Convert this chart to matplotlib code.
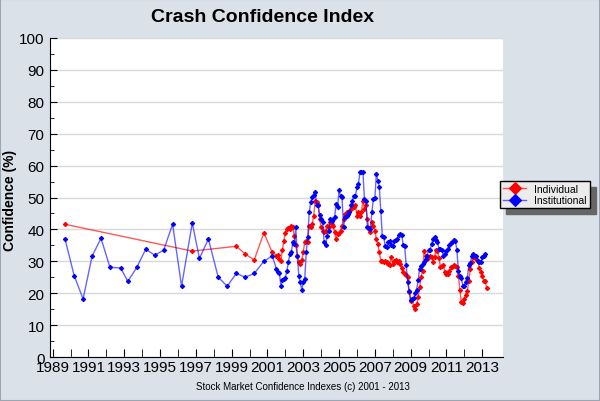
import matplotlib
matplotlib.use("Agg")
import matplotlib.pyplot as plt
import numpy as np
from matplotlib.patches import Rectangle

plt.rcParams['font.family'] = ['Liberation Sans', 'DejaVu Sans']

# semi-annual survey points before the monthly series
inst_early_years = [1989.69, 1990.2, 1990.7, 1991.2, 1991.7, 1992.2, 1992.8, 1993.2,
                    1993.7, 1994.2, 1994.7, 1995.2, 1995.7, 1996.2, 1996.8, 1997.2,
                    1997.7, 1998.25, 1998.75, 1999.26, 1999.76, 2000.26, 2000.8, 2001.27]
inst_early = [37.0, 25.5, 18.2, 31.6, 37.2, 28.1, 27.9, 23.7, 28.1, 33.8, 31.9, 33.5,
              41.6, 22.2, 42.0, 30.9, 37.0, 25.0, 22.2, 26.2, 25.0, 26.2, 30.0, 31.7]

ind_early_years = [1989.69, 1996.8, 1999.26, 1999.76, 2000.26, 2000.8, 2001.27]
ind_early = [41.6, 33.2, 34.7, 32.3, 30.4, 38.9, 32.8]

# monthly values, July 2001 onwards
monthly_start = 2001.5
inst_monthly = [
    27.6, 26.8, 26.4, 22.4, 24.0, 24.5, 24.7, 27.0, 29.7, 32.3, 33.0, 36.0,
    35.5, 40.7, 31.8, 25.5, 23.4, 21.1, 23.4, 24.5, 32.8, 37.5, 45.4, 48.5,
    50.1, 50.9, 51.6, 47.7, 47.5, 44.5, 43.3, 42.2, 36.0, 35.1, 38.0, 39.6,
    43.3, 42.7, 43.3, 43.8, 48.0, 46.9, 52.2, 50.6, 50.1, 40.7, 43.8, 44.3,
    44.9, 45.4, 47.5, 49.0, 50.6, 50.6, 53.2, 54.3, 57.9, 58.1, 58.1, 49.5,
    49.0, 40.7, 40.5, 40.2, 45.4, 49.5, 49.7, 57.4, 55.3, 53.2, 45.7, 38.0,
    37.5, 34.7, 34.4, 36.2, 36.3, 35.0, 34.7, 36.5, 36.7, 37.0, 38.3, 38.5,
    38.3, 35.1, 34.7, 28.8, 23.4, 20.8, 18.0, 18.2, 18.4, 20.0, 21.1, 24.0,
    27.6, 28.5, 29.2, 29.7, 30.7, 31.8, 33.4, 33.6, 35.4, 37.0, 37.5, 36.8,
    36.0, 33.9, 33.9, 33.4, 31.8, 32.3, 33.3, 34.0, 35.1, 35.6, 36.2, 36.8,
    36.3, 33.6, 27.1, 25.5, 24.7, 22.4, 22.4, 23.5, 24.7, 28.8, 29.5, 31.6,
    32.3, 31.6, 31.6, 30.2, 29.7, 29.7, 31.2, 31.8, 32.3,
]
ind_monthly = [
    31.8, 32.0, 30.7, 30.2, 33.5, 36.5, 39.0, 40.2, 40.5, 40.0, 41.0, 40.7,
    38.0, 35.0, 31.8, 29.7, 29.2, 30.5, 33.0, 36.0, 36.5, 36.0, 41.2, 40.7,
    41.7, 44.3, 49.0, 48.5, 47.5, 43.3, 40.7, 39.6, 39.1, 39.6, 41.2, 40.7,
    42.2, 41.7, 41.2, 39.1, 37.0, 38.6, 39.0, 39.6, 41.2, 43.3, 44.9, 45.4,
    44.9, 45.9, 46.4, 47.5, 46.9, 47.5, 44.3, 45.4, 44.3, 45.4, 49.0, 46.4,
    47.5, 43.3, 40.2, 39.1, 42.2, 41.2, 39.6, 37.0, 35.4, 32.8, 30.2, 30.2,
    29.7, 30.2, 29.7, 29.2, 28.8, 31.2, 29.2, 30.2, 30.5, 29.7, 30.2, 29.0,
    27.8, 26.5, 26.0, 25.7, 25.0, 20.5, 17.7, 18.2, 15.9, 15.0, 16.5, 18.7,
    21.8, 25.0, 27.1, 33.1, 31.8, 30.7, 31.5, 31.8, 31.2, 29.7, 31.2, 33.6,
    33.3, 31.0, 28.1, 28.6, 28.8, 26.5, 26.0, 26.0, 27.0, 28.1, 28.1, 28.8,
    28.4, 28.1, 25.5, 21.1, 17.1, 16.9, 18.2, 19.5, 20.8, 23.9, 27.6, 29.7,
    31.2, 31.8, 30.7, 30.2, 28.0, 26.5, 25.5, 23.9, 23.9, 21.5,
]

inst_x = np.concatenate([inst_early_years, monthly_start + np.arange(len(inst_monthly)) / 12])
inst_y = np.concatenate([inst_early, inst_monthly])
ind_x = np.concatenate([ind_early_years, monthly_start + np.arange(len(ind_monthly)) / 12])
ind_y = np.concatenate([ind_early, ind_monthly])

bg = '#dae1e8'
fig = plt.figure(figsize=(6, 4.02), dpi=100, facecolor=bg)
fig.patches.append(Rectangle((0, 0), 1, 1, transform=fig.transFigure, fill=False,
                             edgecolor='#9aa6b2', lw=1.5))
ax = fig.add_axes([50 / 600, 1 - 358 / 402, 453 / 600, 319 / 402])
ax.set_facecolor('white')

ax.plot(ind_x, ind_y, color=(1, 0, 0, 0.65), lw=1, marker='D', ms=2.2, mew=0.8,
        mfc='#ff0000', mec='#ff0000', label='Individual', zorder=3)
ax.plot(inst_x, inst_y, color=(0, 0, 1, 0.6), lw=1, marker='D', ms=2.2, mew=0.8,
        mfc='#0000ff', mec='#0000ff', label='Institutional', zorder=4)

ax.set_xlim(1988.85, 2014.16)
ax.set_ylim(0, 100)
ax.set_xticks(np.arange(1989, 2014, 1), minor=True)
ax.set_xticks(np.arange(1989, 2014, 2))
ax.set_xticklabels([str(y) for y in range(1989, 2014, 2)], fontsize=11)
ax.set_yticks(np.arange(0, 101, 10))
ax.set_yticks(np.arange(0, 101, 5), minor=True)
ax.tick_params(axis='y', labelsize=11, direction='in', length=5, pad=4)
ax.tick_params(axis='y', which='minor', direction='in', length=3)
ax.tick_params(axis='x', which='both', direction='in', length=6, pad=2, labelsize=11)
ax.grid(axis='y', color='#d9d9d9', lw=1)
ax.set_axisbelow(True)
for s in ['top', 'right']:
    ax.spines[s].set_visible(False)

fig.text(10 / 600, 1 - 200 / 402, 'Confidence (%)', rotation=90, ha='center', va='center',
         fontsize=10, fontweight='bold')
fig.text(263 / 600, 1 - 17 / 402, 'Crash Confidence Index', ha='center', va='center',
         fontsize=14, fontweight='bold')
fig.text(303 / 600, 1 - 387 / 402, 'Stock Market Confidence Indexes (c) 2001 - 2013',
         ha='center', va='center', fontsize=7)

leg = fig.legend(loc='upper left', bbox_to_anchor=(500 / 600, 1 - 182 / 402),
                 fontsize=7.5, frameon=True, fancybox=False, framealpha=1,
                 edgecolor='black', facecolor='#ececec', markerscale=3,
                 handlelength=2.2, handletextpad=0.8, borderpad=0.3,
                 labelspacing=0.1, borderaxespad=0,
                 shadow={'ox': 4, 'oy': -4, 'color': '#666666', 'alpha': 1})
leg.get_frame().set_linewidth(1)

fig.savefig('out.png', dpi=100, facecolor=bg)
